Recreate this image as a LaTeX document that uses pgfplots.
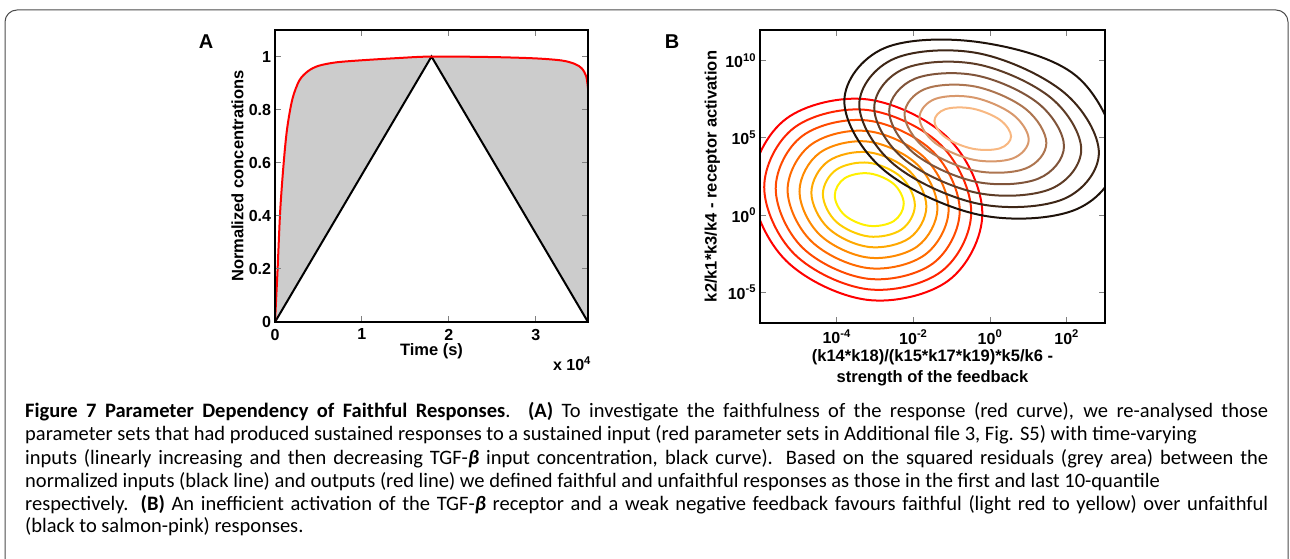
\documentclass[border=0pt]{standalone}
\usepackage{pgfplots}
\pgfplotsset{compat=1.18}
\usepackage{fontspec}
\setmainfont{Liberation Sans}
\newfontfamily\capfont{Carlito}
\definecolor{c0}{HTML}{FF0000}\definecolor{c1}{HTML}{FF2400}\definecolor{c2}{HTML}{FF4A00}
\definecolor{c3}{HTML}{FF6A00}\definecolor{c4}{HTML}{FF8A00}\definecolor{c5}{HTML}{FFA800}
\definecolor{c6}{HTML}{FFCC00}\definecolor{c7}{HTML}{FFF000}
\definecolor{k0}{HTML}{1E120A}\definecolor{k1}{HTML}{3E2616}\definecolor{k2}{HTML}{5E3C26}
\definecolor{k3}{HTML}{80543A}\definecolor{k4}{HTML}{AD7550}\definecolor{k5}{HTML}{D8986C}
\definecolor{k6}{HTML}{F8B882}
\begin{document}
\begin{tikzpicture}
\path[use as bounding box] (0pt,0pt) rectangle (1290pt,558pt);
\draw[black!70, line width=1pt, rounded corners=12pt] (5pt,-2pt) -- (5pt,548pt) -- (1288pt,548pt) -- (1288pt,-2pt);
\pgfplotsset{every axis/.append style={
  scale only axis, axis on top, tick align=inside, major tick length=6pt,
  line width=1.2pt, tick style={line width=1pt},
  tick label style={font=\fontsize{16}{18}\selectfont\bfseries},
  label style={font=\fontsize{16.5}{19}\selectfont\bfseries},
  xticklabel style={yshift=-3pt},
  /pgf/number format/assume math mode=true},
  ct/.style={line width=2pt, smooth cycle, tension=0.6}}
% Panel A
\begin{axis}[at={(275pt,236pt)}, anchor=south west, width=313pt, height=292pt,
  xmin=0, xmax=3.6, ymin=0, ymax=1.1,
  xtick={0,1,2,3}, ytick={0,0.2,0.4,0.6,0.8,1},
  yticklabels={0,0.2,0.4,0.6,0.8,1},
  ylabel={Normalized concentrations}, xlabel={Time (s)},
  ylabel style={yshift=-2pt}, xlabel style={yshift=4pt}]
\addplot[draw=none, fill=black!20] coordinates {(0,0)(0.03,0.2)(0.06,0.42)(0.1,0.6)(0.14,0.73)(0.2,0.84)(0.28,0.91)(0.38,0.945)(0.5,0.965)(0.7,0.978)(1.0,0.986)(1.4,0.994)(1.8,1.0)(2.5,0.998)(3.0,0.993)(3.3,0.985)(3.45,0.972)(3.53,0.955)(3.58,0.925)(3.6,0.88)} \closedcycle;
\addplot[draw=none, fill=white] coordinates {(0,0)(1.8,1)(3.6,0)} \closedcycle;
\addplot[black, line width=2pt] coordinates {(0,0)(1.8,1)(3.6,0)};
\addplot[red, line width=2pt, smooth] coordinates {(0,0)(0.03,0.2)(0.06,0.42)(0.1,0.6)(0.14,0.73)(0.2,0.84)(0.28,0.91)(0.38,0.945)(0.5,0.965)(0.7,0.978)(1.0,0.986)(1.4,0.994)(1.8,1.0)(2.5,0.998)(3.0,0.993)(3.3,0.985)(3.45,0.972)(3.53,0.955)(3.58,0.925)(3.6,0.88)};
\end{axis}
\node[font=\fontsize{16}{18}\selectfont\bfseries] at (572pt,194pt) {x 10\textsuperscript{4}};
\node[font=\fontsize{20}{22}\selectfont\bfseries] at (206pt,516pt) {A};
\node[font=\fontsize{20}{22}\selectfont\bfseries] at (672pt,516pt) {B};
% Panel B
\begin{axis}[at={(760pt,235pt)}, anchor=south west, width=345pt, height=293pt,
  xmin=-6, xmax=3, ymin=-7, ymax=12,
  xtick={-4,-2,0,2}, xticklabels={10\textsuperscript{-4},10\textsuperscript{-2},10\textsuperscript{0},10\textsuperscript{2}},
  ytick={-5,0,5,10}, yticklabels={10\textsuperscript{-5},10\textsuperscript{0},10\textsuperscript{5},10\textsuperscript{10}},
  ylabel={k2/k1*k3/k4 - receptor activation},
  xlabel={(k14*k18)/(k15*k17*k19)*k5/k6 -\\strength of the feedback},
  xlabel style={align=center, yshift=2pt, font=\fontsize{16.5}{21}\selectfont\bfseries},
  ylabel style={yshift=-2pt}]
\addplot[c0, ct] coordinates {(-0.2,0.1)(-1.08,4.96)(-3.2,7.5)(-5.32,6.24)(-6.2,1.9)(-5.32,-2.96)(-3.2,-5.5)(-1.08,-4.24)};
\addplot[c1, ct] coordinates {(-0.49,0.19)(-1.28,4.54)(-3.19,6.81)(-5.10,5.68)(-5.89,1.81)(-5.10,-2.54)(-3.19,-4.81)(-1.28,-3.68)};
\addplot[c2, ct] coordinates {(-0.79,0.28)(-1.49,4.12)(-3.19,6.13)(-4.89,5.14)(-5.59,1.72)(-4.89,-2.12)(-3.19,-4.13)(-1.49,-3.14)};
\addplot[c3, ct] coordinates {(-1.08,0.37)(-1.70,3.70)(-3.18,5.44)(-4.66,4.58)(-5.28,1.63)(-4.66,-1.70)(-3.18,-3.44)(-1.70,-2.58)};
\addplot[c4, ct] coordinates {(-1.37,0.46)(-1.90,3.28)(-3.17,4.76)(-4.44,4.04)(-4.97,1.54)(-4.44,-1.28)(-3.17,-2.76)(-1.90,-2.04)};
\addplot[c5, ct] coordinates {(-1.66,0.55)(-2.10,2.85)(-3.16,4.07)(-4.22,3.49)(-4.66,1.45)(-4.22,-0.85)(-3.16,-2.07)(-2.10,-1.49)};
\addplot[c6, ct] coordinates {(-1.96,0.64)(-2.31,2.44)(-3.16,3.39)(-4.01,2.94)(-4.36,1.36)(-4.01,-0.44)(-3.16,-1.39)(-2.31,-0.94)};
\addplot[c7, ct] coordinates {(-2.25,0.73)(-2.51,2.01)(-3.15,2.7)(-3.79,2.39)(-4.05,1.27)(-3.79,-0.01)(-3.15,-0.7)(-2.51,-0.39)};
\addplot[k0, ct] coordinates {(3.30,3.82)(2.26,9.0)(-0.25,11.2)(-2.76,10.82)(-3.80,7.38)(-2.76,2.90)(-0.25,0.0)(2.26,0.38)};
\addplot[k1, ct] coordinates {(2.84,4.04)(1.93,7.95)(-0.28,10.48)(-2.49,10.15)(-3.41,7.16)(-2.49,3.25)(-0.28,0.72)(1.93,1.05)};
\addplot[k2, ct] coordinates {(2.38,4.25)(1.59,7.60)(-0.32,9.77)(-2.23,9.50)(-3.02,6.95)(-2.23,3.60)(-0.32,1.43)(1.59,1.70)};
\addplot[k3, ct] coordinates {(1.93,4.46)(1.26,7.24)(-0.35,9.05)(-1.96,8.84)(-2.63,6.74)(-1.96,3.96)(-0.35,2.15)(1.26,2.36)};
\addplot[k4, ct] coordinates {(1.47,4.67)(0.93,6.88)(-0.38,8.33)(-1.69,8.18)(-2.23,6.53)(-1.69,4.32)(-0.38,2.87)(0.93,3.02)};
\addplot[k5, ct] coordinates {(1.01,4.89)(0.59,6.53)(-0.42,7.62)(-1.43,7.53)(-1.84,6.31)(-1.43,4.67)(-0.42,3.58)(0.59,3.67)};
\addplot[k6, ct] coordinates {(0.55,5.1)(0.26,6.17)(-0.45,6.9)(-1.16,6.87)(-1.45,6.1)(-1.16,5.03)(-0.45,4.3)(0.26,4.33)};
\end{axis}
% Caption
\begin{scope}[every node/.style={anchor=base west, inner sep=0pt, font=\capfont\fontsize{20.5}{23}\selectfont}]
\node at (25pt,141pt) {\hbox to 1243pt{\textbf{Figure 7 Parameter Dependency of Faithful Responses}. \textbf{(A)} To investigate the faithfulness of the response (red curve), we re-analysed those}};
\node at (25pt,118pt) {\hbox to 1243pt{parameter sets that had produced sustained responses to a sustained input (red parameter sets in Additional file 3, Fig. S5) with time-varying\hfil}};
\node at (25pt,94pt) {\hbox to 1243pt{inputs (linearly increasing and then decreasing TGF-\textbf{\textit{β}} input concentration, black curve). Based on the squared residuals (grey area) between the}};
\node at (25pt,71pt) {\hbox to 1243pt{normalized inputs (black line) and outputs (red line) we defined faithful and unfaithful responses as those in the first and last 10-quantile\hfil}};
\node at (25pt,48pt) {\hbox to 1243pt{respectively. \textbf{(B)} An inefficient activation of the TGF-\textbf{\textit{β}} receptor and a weak negative feedback favours faithful (light red to yellow) over unfaithful}};
\node at (25pt,26pt) {(black to salmon-pink) responses.};
\end{scope}
\end{tikzpicture}
\end{document}
